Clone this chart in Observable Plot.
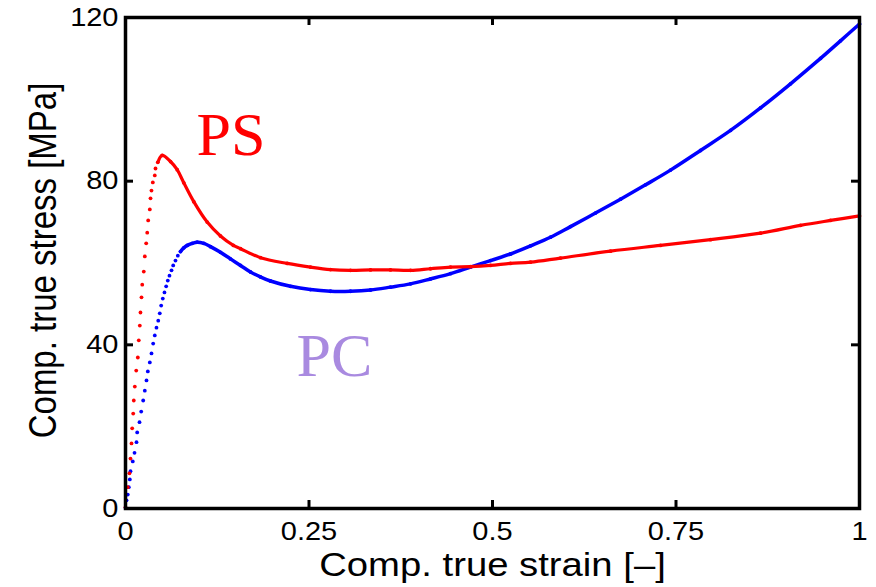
<!DOCTYPE html>
<html><head><meta charset="utf-8">
<script src="https://cdn.jsdelivr.net/npm/d3@7"></script>
<script src="https://cdn.jsdelivr.net/npm/@observablehq/plot@0.6"></script>
<style>html,body{margin:0;padding:0;background:#fff}#chart svg{display:block}</style>
</head><body><div id="chart"></div><script>
// PS (red) measured points: strain [-], stress [MPa]
const psStrain = [0,0.0031,0.0054,0.0068,0.0082,0.0091,0.0105,0.0113,0.0127,0.0146,0.0168,0.0181,0.0195,0.0204,0.0218,0.0228,0.0249,0.0263,0.0282,0.0296,0.0309,0.0331,0.0341,0.0354,0.0372,0.0399,0.0409,0.0440,0.0500,
  0.0613,0.0704,0.0794,0.093,0.1113,0.1294,0.147,0.1567,0.184,0.2203,0.252,0.2793,0.3065,0.3338,0.361,0.3883,0.4155,0.4428,0.470,0.4973,0.5245,0.5518,0.5926,0.6608,0.7289,0.797,0.8651,0.9196,0.9605,1.0];
const psStress = [0.3,5.2,8.6,12.2,15.9,19.6,23.2,26.4,29.8,33.7,36.9,41.1,44.7,47.9,51.6,54.7,57.9,61.6,64.8,67.4,70.4,73.1,75.8,77.7,79.7,81.4,83.1,84.6,86.3,
  84.8,82.8,79.6,75.0,70.0,66.6,64.3,63.5,61.3,59.9,59.0,58.4,58.2,58.3,58.3,58.2,58.6,59.0,59.1,59.4,59.9,60.2,61.2,62.9,64.3,65.7,67.3,69.2,70.4,71.5];
// PC (blue) measured points
const pcStrain = [0,0.0014,0.0031,0.0045,0.0059,0.0068,0.0099,0.0123,0.0150,0.0159,0.0191,0.0214,0.0241,0.0263,0.0286,0.0304,0.0331,0.0354,0.0377,0.0399,0.0422,0.0446,0.0467,0.0486,0.0508,0.0531,0.0554,0.0576,0.0599,0.0627,0.0650,0.0681,0.0713,
  0.0749,0.0794,0.0841,0.0909,0.0977,0.1067,0.1158,0.1294,0.143,0.1567,0.1703,0.1839,0.1975,0.2248,0.252,0.2793,0.3065,0.3338,0.361,0.3883,0.4155,0.4428,0.470,0.4973,0.5245,0.5518,0.579,0.6063,0.6403,0.6744,0.7085,0.7425,0.7834,0.8243,0.8651,0.906,0.9469,0.9741,1.0];
const pcStress = [0.2,2.0,3.4,5.2,7.1,9.1,11.5,13.6,16.2,18.6,21.1,23.7,26.4,28.8,31.3,33.5,35.7,37.9,40.3,42.3,44.2,45.9,47.7,49.6,51.3,52.8,54.3,55.7,56.9,58.2,59.4,60.6,61.8,
  62.8,63.7,64.3,64.8,65.1,64.8,64.0,62.6,61.0,59.4,57.8,56.6,55.6,54.3,53.5,53.1,53.1,53.4,54.1,54.9,56.1,57.4,59.0,60.6,62.2,64.2,66.3,68.9,72.2,75.6,79.1,82.7,87.5,92.4,97.9,103.8,110.0,114.3,118.4];
// strain where the markers become dense enough to look like a continuous line
const psDenseFrom = 0.044;
const pcDenseFrom = 0.072;

const xTicks = [0, 0.25, 0.5, 0.75, 1];
const xTickLabels = ["0", "0.25", "0.5", "0.75", "1"];
const yTicks = [0, 40, 80, 120];
const yTickLabels = ["0", "40", "80", "120"];
const xLabel = "Comp. true strain [–]";
const yLabel = "Comp. true stress [MPa]";
const seriesNames = ["PS", "PC"];
const seriesColors = ["#ff0000", "#0000ff"];
const annotColors = ["#ff0000", "#a98ae0"];
const annotStrain = [0.1437, 0.2847];
const annotStress = [86.3, 32.5];

const ps = psStrain.map((x, i) => ({x, y: psStress[i]}));
const pc = pcStrain.map((x, i) => ({x, y: pcStress[i]}));
const annots = seriesNames.map((t, i) => ({t, x: annotStrain[i], y: annotStress[i], c: annotColors[i]}));

const W = 876, H = 587, mT = 17, mR = 17, mB = 79, mL = 125;
const fW = W - mL - mR, fH = H - mT - mB;
const tickLen = 8;
const sansFont = "'Liberation Sans', Arial, Helvetica, sans-serif";

const chart = Plot.plot({
  width: W, height: H,
  marginTop: mT, marginRight: mR, marginBottom: mB, marginLeft: mL,
  style: {fontFamily: sansFont, fontSize: "25px", background: "#fff", color: "#000"},
  x: {domain: [0, 1]},
  y: {domain: [0, 120]},
  marks: [
    Plot.line(pc.filter(d => d.x >= pcDenseFrom), {x: "x", y: "y", stroke: seriesColors[1], strokeWidth: 3.5, curve: "catmull-rom"}),
    Plot.dot(pc, {x: "x", y: "y", r: 1.9, fill: seriesColors[1], stroke: "none"}),
    Plot.line(ps.filter(d => d.x >= psDenseFrom), {x: "x", y: "y", stroke: seriesColors[0], strokeWidth: 3.2, curve: "catmull-rom"}),
    Plot.dot(ps, {x: "x", y: "y", r: 1.9, fill: seriesColors[0], stroke: "none"}),
    Plot.frame({stroke: "#000", strokeWidth: 3.5}),
    Plot.tickX(xTicks, {x: d => d, insetTop: fH - tickLen, stroke: "#000", strokeWidth: 3}),
    Plot.tickX(xTicks, {x: d => d, insetBottom: fH - tickLen, stroke: "#000", strokeWidth: 3}),
    Plot.tickY(yTicks, {y: d => d, insetRight: fW - tickLen, stroke: "#000", strokeWidth: 3}),
    Plot.tickY(yTicks, {y: d => d, insetLeft: fW - tickLen, stroke: "#000", strokeWidth: 3}),
    Plot.axisX(xTicks, {tickSize: 0, tickPadding: 14, label: null, fontSize: 25,
      tickFormat: d => xTickLabels[xTicks.indexOf(d)]}),
    Plot.axisY(yTicks, {tickSize: 0, tickPadding: 7, label: null, fontSize: 25,
      tickFormat: d => yTickLabels[yTicks.indexOf(d)]}),
    Plot.text([xLabel], {frameAnchor: "bottom", dy: 57, textAnchor: "middle", lineAnchor: "middle", fontSize: 33, fill: "#000", text: d => d}),
    Plot.text([yLabel], {frameAnchor: "left", dx: -82, dy: -2.5, rotate: -90, textAnchor: "middle", lineAnchor: "middle", fontSize: 33, fill: "#000", text: d => d}),
    Plot.text(annots, {x: "x", y: "y", text: "t", fill: "c", fontFamily: "'Liberation Serif', 'Times New Roman', serif",
      fontSize: 62, lineAnchor: "bottom", textAnchor: "middle"})
  ]
});
document.getElementById("chart").appendChild(chart);

// the reference's sans-serif text is stretched horizontally
const SX = 1.16;
d3.select(chart).selectAll("text").each(function() {
  const fam = this.parentNode.getAttribute("font-family") || "";
  if (fam.includes("Serif")) return;
  const t = this.getAttribute("transform") || "";
  this.setAttribute("transform", t + (t.includes("rotate") ? ` scale(1,${SX})` : ` scale(${SX},1)`));
});
</script></body></html>
